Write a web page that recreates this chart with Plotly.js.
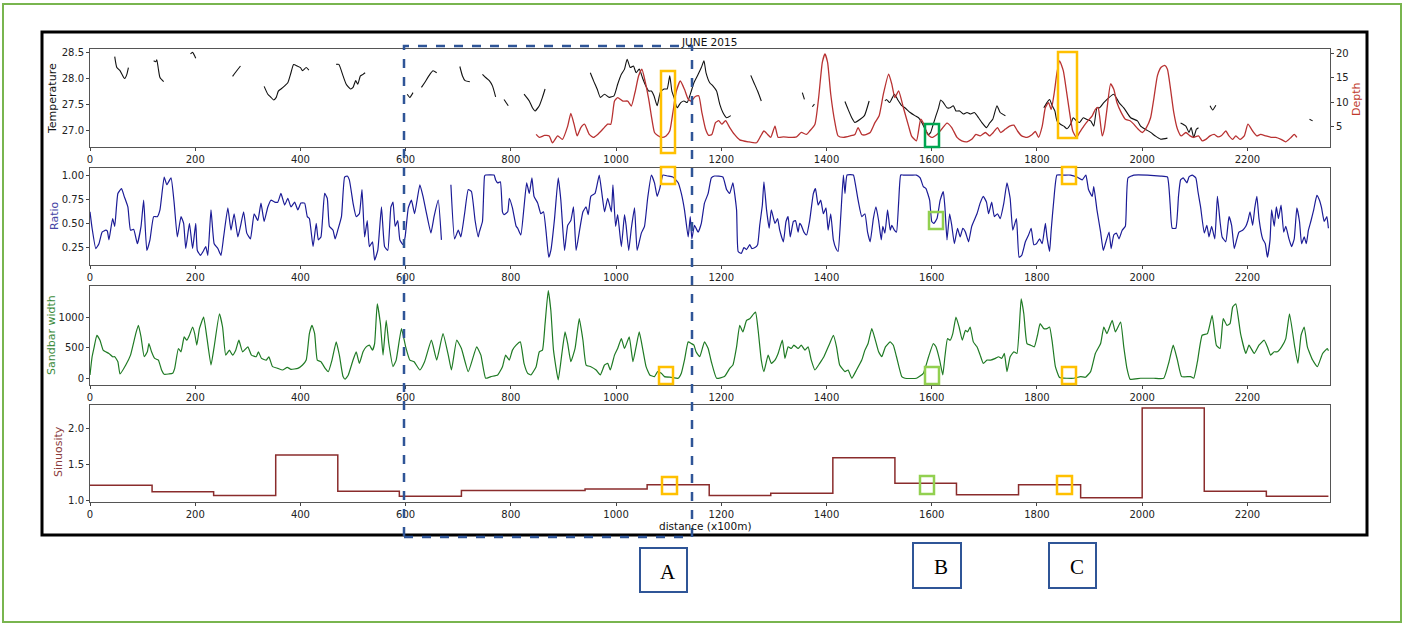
<!DOCTYPE html>
<html><head><meta charset="utf-8">
<script src="https://cdn.plot.ly/plotly-3.0.1.min.js"></script>
<style>html,body{margin:0;padding:0;background:#fff}#chart{width:1405px;height:625px}</style>
</head><body><div id="chart"></div>
<script>
// ---------------- DATA ----------------
const xTicks = [0,200,400,600,800,1000,1200,1400,1600,1800,2000,2200];

const tempX = [47,51,57,64,66,70,73,null,
 121,125,127,130,133,140,null,
 191,195,201,null,
 271,276,286,null,
 331,338,344,349,354,358,363,370,376,382,387,394,400,404,411,416,null,
 468,473,481,487,495,500,505,509,514,519,523,null,
 603,608,614,null,
 630,636,646,652,659,null,
 703,708,713,722,null,
 746,752,759,765,771,null,
 787,795,null,
 825,835,841,846,854,860,865,null,
 951,957,964,970,978,987,996,1003,1010,1016,1021,1027,1033,1038,1044,1051,1055,1062,1067,1072,1078,1084,1091,1097,1102,1106,1110,1116,1123,1129,1135,1142,1148,1156,1162,1167,1171,1178,1184,1191,1197,1203,1210,1218,null,
 1256,1262,1269,1276,null,
 1354,1358,null,
 1373,1377,null,
 1435,1441,1448,1454,1464,1472,1481,null,
 1511,1514,1520,1529,1535,1543,1549,1559,1568,1575,1581,1589,1594,1598,1603,1608,1613,1617,1622,1629,1635,1641,1646,1653,1660,1667,1674,1681,1689,1695,1704,1710,1716,1724,1730,1740,null,
 1813,1819,1824,1829,1834,1838,1844,1851,1857,1864,1869,1875,1881,1888,1894,1902,1908,1914,1919,1927,1946,1956,1965,1978,1991,1997,2006,2016,2025,2035,2048,null,
 2073,2083,2089,2093,2098,2103,2107,null,
 2129,2134,2140,null,
 2318,2324];
const tempY = [28.42,28.21,28.15,28.02,28.00,28.08,28.21,null,
 28.34,28.32,28.36,28.18,28.02,27.94,null,
 28.47,28.50,28.39,null,
 28.04,28.11,28.24,null,
 27.85,27.70,27.64,27.59,27.64,27.76,27.80,27.86,27.92,28.11,28.27,28.24,28.21,28.15,28.21,28.16,null,
 28.27,28.27,28.05,27.89,27.80,27.83,27.96,27.89,28.05,28.08,28.11,null,
 27.70,27.64,27.73,null,
 27.83,27.92,28.08,28.15,28.11,null,
 28.23,28.05,27.96,27.94,null,
 28.08,28.02,27.96,27.86,27.65,null,
 27.60,27.48,null,
 27.70,27.57,27.44,27.38,27.48,27.64,27.80,null,
 28.11,27.96,27.80,27.64,27.70,27.64,27.67,27.89,28.08,28.18,28.37,28.21,28.24,28.11,28.18,27.99,27.89,27.76,27.76,27.67,27.48,27.73,27.80,27.80,28.05,27.76,27.64,27.44,27.54,27.57,27.54,27.73,27.92,28.08,28.21,28.34,28.11,27.92,27.86,27.76,27.51,27.35,27.25,27.29,null,
 28.06,27.92,27.76,27.57,null,
 27.73,27.60,null,
 27.46,27.51,null,
 27.56,27.41,27.25,27.16,27.22,27.29,27.57,null,
 27.57,27.60,27.54,27.70,27.60,27.48,27.44,27.35,27.29,27.25,27.16,27.00,26.93,26.97,27.13,27.29,27.44,27.59,27.54,27.44,27.44,27.48,27.38,27.38,27.32,27.35,27.32,27.35,27.25,27.16,27.06,27.15,27.22,27.48,27.35,27.29,null,
 27.44,27.54,27.60,27.48,27.38,27.19,27.13,27.09,27.04,27.13,27.25,27.19,27.16,27.25,27.22,27.19,27.09,27.44,27.44,27.54,27.70,27.54,27.44,27.25,27.19,27.09,27.03,26.97,26.90,26.84,26.86,null,
 27.15,27.09,26.97,27.06,26.87,27.03,27.06,null,
 27.48,27.40,27.49,null,
 27.22,27.19];

const depthX = [848,854,864,873,879,889,898,908,914,921,926,933,940,949,957,965,975,984,990,997,
 1003,1013,1022,1029,1036,1043,1049,1055,1062,1067,1073,1079,1087,1095,1102,1108,1114,1122,1130,1137,
 1143,1150,1157,1163,1170,1176,1182,1189,1195,1201,1208,1216,1225,1235,1251,1267,1275,1281,1288,1294,
 1302,1308,1318,1330,1343,1352,1362,1368,1378,1385,1392,1397,1402,1408,1416,1422,1432,1445,1454,1460,
 1467,1473,1483,1492,1500,1508,1518,1524,1530,1537,1546,1556,
 1562,1571,1579,1585,1592,1600,1610,1619,1629,1638,1648,1657,1667,1676,1684,1692,1702,1710,1717,1725,
 1731,1740,1748,1756,1763,1771,1781,1791,1797,1803,1810,1816,1822,1827,1833,1838,1843,1850,1856,1862,
 1868,1875,1881,1889,1897,1905,1911,1916,1919,1924,1928,1933,1940,1946,1952,1960,1968,1977,1984,1992,
 2000,2008,2016,2022,2029,2036,2043,2048,2054,2060,2067,2074,2083,2091,2098,2107,2114,2121,2129,2137,
 2144,2151,2159,2165,2172,2178,2186,2194,2201,2210,2218,2225,2235,2245,2254,2264,2273,2283,2289,2294];
const depthY = [3.4,2.8,3.2,3.1,1.7,3.1,2.4,5.1,7.7,5.1,3.1,4.8,5.5,3.4,2.8,3.4,4.5,5.5,5.5,10.2,
 10.9,10.2,10.2,9.2,12.0,15.4,16.7,14.3,10.6,7.2,3.8,3.2,2.8,3.1,4.1,7.9,12.0,14.3,12.6,10.6,
 10.2,11.1,11.3,7.9,4.5,3.2,3.4,5.8,6.2,5.5,6.2,4.8,3.4,2.3,1.9,1.7,3.1,4.1,3.4,2.8,
 5.1,2.8,2.9,2.8,2.9,3.8,3.4,4.1,5.5,10.9,18.1,19.8,18.1,11.6,5.8,3.1,2.8,3.1,3.4,4.8,
 3.4,3.3,3.8,5.8,7.2,11.6,15.7,13.7,10.9,12.3,8.9,5.1,
 3.0,2.1,6.5,5.5,3.4,2.8,3.4,4.5,5.7,4.8,2.8,2.1,1.9,2.4,3.4,3.1,3.8,3.1,3.8,4.8,
 3.8,4.5,5.1,5.3,4.1,3.1,2.8,3.4,4.0,2.8,5.1,8.9,9.9,8.5,12.0,16.0,18.4,16.4,12.3,7.9,
 4.1,2.8,3.8,5.1,6.2,7.2,8.5,8.9,7.2,3.1,4.5,8.5,13.7,12.6,9.9,7.9,6.5,6.2,5.5,4.5,
 3.8,4.8,6.8,10.6,15.4,17.1,17.5,16.7,12.6,7.9,4.5,3.1,3.8,3.1,2.8,3.1,2.1,2.4,3.1,3.4,
 2.9,3.2,4.1,3.1,2.4,3.1,2.4,3.1,5.5,4.1,3.1,3.4,3.1,2.8,2.8,2.4,1.9,2.8,3.4,2.8];

const ratioX = [0,4,11,17,23,30,33,36,43,47,53,60,65,72,77,83,90,97,102,108,114,121,128,133,141,146,154,160,166,173,178,182,189,195,201,204,210,216,220,224,230,236,243,249,254,262,268,274,281,286,292,298,305,312,319,325,331,338,344,351,357,363,370,376,382,389,395,401,408,413,417,424,430,434,439,446,451,455,462,466,471,478,484,489,493,500,506,512,517,522,527,531,537,541,547,554,560,566,572,576,580,585,589,595,599,605,611,617,627,633,639,648,654,662,668,null,686,693,700,705,712,719,725,732,738,
 740,746,750,752,768,771,775,780,784,787,794,797,803,810,813,819,825,830,835,840,844,851,857,862,867,872,876,883,890,895,902,908,914,919,924,930,937,943,947,952,960,968,973,978,984,991,994,999,1003,1010,1016,1019,1024,1029,1035,1040,1048,1054,1060,1067,1073,1078,1083,1089,1098,1108,1118,1124,1130,1137,1141,1144,1149,1156,1162,1168,1175,1181,1187,1203,1210,1216,1222,1229,1232,1238,1243,1248,1254,1258,1264,1269,1273,1278,1281,1286,1291,1295,1302,1307,1311,1318,1323,1327,1331,1337,1341,1346,1349,1352,1357,1362,1368,1375,1379,1384,1389,1394,1399,1403,1408,1413,1418,1422,1427,1432,1435,1439,1451,1455,1460,1467,1473,1478,1483,1489,1494,1499,1504,1507,1511,1516,1521,1524,1529,1533,1537,1541,1546,1562,
 1571,1578,1584,1589,1596,1600,1604,1610,1616,1622,1625,1629,1634,1638,1643,1649,1654,1659,1664,1670,1676,1686,1692,1698,1704,1708,1714,1719,1725,1730,1737,1743,1749,1754,1761,1766,1771,1778,1784,1789,1794,1799,1805,1810,1816,1819,1824,1827,1832,1838,1851,1864,1876,1886,1893,1898,1905,1908,1914,1921,1926,1930,1937,1941,1946,1951,1956,1962,1968,1973,1984,2010,2035,2048,2053,2057,2064,2069,2073,2078,2085,2089,2095,2102,2106,2111,2118,2123,2127,2132,2138,2143,2148,2152,2159,2165,2170,2175,2180,2184,2191,2197,2201,2205,2210,2214,2218,2222,2229,2234,2238,2243,2246,2251,2255,2259,2264,2269,2273,2279,2284,2289,2294,2299,2303,2308,2312,2316,2321,2326,2332,2337,2341,2346,2351,2354];
const ratioY = [0.62,0.45,0.24,0.29,0.41,0.43,0.42,0.33,0.55,0.47,0.81,0.86,0.78,0.67,0.43,0.44,0.29,0.47,0.74,0.22,0.33,0.57,0.57,0.64,0.98,0.90,0.97,0.71,0.36,0.57,0.50,0.24,0.50,0.24,0.50,0.22,0.17,0.22,0.26,0.17,0.64,0.29,0.24,0.17,0.36,0.66,0.43,0.60,0.36,0.47,0.62,0.40,0.34,0.60,0.53,0.71,0.52,0.67,0.74,0.72,0.72,0.81,0.69,0.76,0.67,0.72,0.64,0.71,0.71,0.57,0.55,0.26,0.50,0.33,0.36,0.81,0.76,0.47,0.43,0.34,0.43,0.57,0.98,0.99,0.95,0.71,0.57,0.60,0.85,0.36,0.53,0.26,0.31,0.12,0.22,0.67,0.26,0.22,0.67,0.72,0.47,0.53,0.33,0.28,0.36,0.66,0.74,0.60,0.90,0.78,0.62,0.40,0.57,0.74,0.33,null,0.90,0.34,0.43,0.36,0.60,0.85,0.83,0.53,0.36,
 0.41,0.52,0.99,1.00,1.00,0.95,0.92,0.93,0.62,0.59,0.62,0.76,0.66,0.47,0.45,0.38,0.67,0.92,0.81,0.97,0.78,0.71,0.60,0.62,0.41,0.15,0.22,0.55,0.97,0.74,0.22,0.48,0.53,0.67,0.22,0.41,0.62,0.67,0.59,0.78,0.81,1.00,0.81,0.62,0.76,0.62,0.90,0.47,0.59,0.26,0.59,0.48,0.22,0.45,0.66,0.22,0.40,0.47,0.76,1.00,0.92,0.78,0.86,1.00,0.99,0.98,0.92,0.81,0.64,0.36,0.57,0.34,0.48,0.41,0.50,0.71,0.81,0.97,0.99,0.98,0.85,0.81,0.92,0.64,0.21,0.19,0.25,0.23,0.28,0.24,0.25,0.28,0.48,0.69,0.93,0.64,0.45,0.64,0.50,0.55,0.43,0.31,0.52,0.57,0.36,0.52,0.53,0.41,0.50,0.48,0.41,0.38,0.53,0.81,0.86,0.69,0.74,0.60,0.66,0.43,0.60,0.33,0.24,0.21,0.57,1.00,0.81,1.00,1.00,0.90,0.74,0.57,0.60,0.41,0.31,0.55,0.67,0.53,0.33,0.47,0.40,0.64,0.43,0.48,0.43,0.41,0.71,1.00,1.00,1.00,
 1.00,0.97,0.88,0.86,0.74,0.52,0.50,0.55,0.74,0.83,0.67,0.33,0.60,0.48,0.29,0.45,0.36,0.45,0.41,0.31,0.47,0.60,0.71,0.78,0.72,0.60,0.72,0.57,0.60,0.55,0.71,0.92,0.76,0.43,0.55,0.15,0.17,0.31,0.38,0.45,0.28,0.29,0.34,0.29,0.50,0.36,0.21,0.43,0.74,1.00,1.00,1.00,0.98,0.95,1.00,0.85,0.78,0.88,0.64,0.41,0.22,0.29,0.41,0.24,0.38,0.40,0.34,0.43,0.47,0.97,1.00,1.00,0.99,0.98,0.71,0.45,0.45,0.78,0.95,0.97,0.92,0.98,1.00,0.97,0.83,0.67,0.40,0.48,0.36,0.47,0.34,0.78,0.52,0.36,0.31,0.57,0.48,0.24,0.34,0.41,0.43,0.47,0.53,0.62,0.48,0.66,0.78,0.55,0.34,0.29,0.15,0.33,0.64,0.47,0.67,0.55,0.69,0.41,0.47,0.34,0.26,0.34,0.66,0.52,0.29,0.36,0.29,0.43,0.53,0.64,0.79,0.74,0.66,0.52,0.57,0.45];

const sandX = [0,4,8,13,19,25,30,36,43,47,53,57,68,77,87,92,97,103,109,112,117,123,130,136,141,150,157,161,168,173,179,184,189,195,199,203,208,216,222,230,236,246,252,258,265,271,277,283,290,300,307,316,320,326,335,340,347,357,366,375,382,395,404,411,417,422,427,432,439,447,453,460,468,474,481,485,491,500,506,512,519,525,531,537,541,546,552,557,563,568,576,582,592,600,608,616,627,636,649,659,671,681,687,697,706,719,735,
 743,752,762,775,784,790,797,803,810,818,825,832,838,848,854,860,865,871,876,881,890,897,903,908,914,922,930,937,943,952,962,970,978,984,989,997,1003,1010,1016,1025,1032,1038,1044,1051,1057,1064,1073,1079,1086,1092,1105,1118,1124,1130,1137,1143,1148,1152,1159,1168,1175,1181,1191,1206,1216,1222,1229,1235,1241,1248,1254,1265,1270,1276,1281,1289,1295,1302,1308,1316,1321,1327,1333,1338,1346,1352,1359,1365,1371,1378,1387,1395,1406,1413,1419,1425,1435,1441,1448,1457,1467,1473,1479,1486,1492,1499,1505,1512,1521,1527,1533,1543,1549,
 1571,1584,1594,1603,1608,1615,1621,1625,1630,1635,1640,1646,1652,1658,1664,1668,1673,1679,1686,1692,1698,1705,1712,1721,1727,1733,1738,1743,1749,1756,1762,1770,1775,1781,1788,1795,1801,1806,1813,1819,1824,1829,1835,1843,1857,1870,1883,1892,1902,1911,1921,1927,1933,1943,1949,1959,1965,1971,1977,1997,2022,2041,2051,2059,2067,2075,2092,2098,2105,2114,2124,2133,2141,2148,2154,2161,2167,2172,2178,2187,2197,2203,2213,2222,2232,2238,2244,2251,2257,2265,2273,2280,2290,2296,2302,2308,2314,2324,2333,2343,2352,2354];
const sandY = [54,351,513,702,621,459,432,405,351,351,270,70,216,378,729,864,675,351,432,567,432,324,297,135,65,70,81,162,486,432,675,621,702,837,729,540,810,999,675,216,513,1053,837,378,459,378,459,621,432,513,378,351,432,324,297,351,189,162,135,178,146,162,216,297,729,864,729,297,270,162,108,297,594,378,27,-16,54,297,432,243,432,513,540,459,567,1215,891,378,945,567,189,297,810,513,297,270,135,270,621,297,729,378,135,621,486,108,513,
 378,0,27,54,189,378,297,459,540,594,243,81,54,189,432,459,891,1431,1107,459,-27,405,756,567,270,486,972,621,216,189,135,54,216,243,135,378,486,648,486,675,270,513,756,459,189,54,27,108,81,27,16,0,81,297,594,567,540,432,351,594,486,270,0,27,162,216,513,864,756,945,972,1080,783,297,108,378,243,297,405,621,324,513,486,540,486,540,459,513,297,135,243,351,567,702,513,216,108,135,0,135,297,459,567,810,648,432,351,513,594,540,351,27,0,
 0,81,351,567,513,297,54,351,648,621,729,999,837,621,783,756,837,594,513,378,243,297,297,324,351,324,405,108,351,432,405,1296,1053,567,540,513,702,891,810,810,837,594,189,11,0,0,27,16,108,405,567,837,729,945,756,918,513,162,-16,0,0,0,270,540,297,27,27,0,270,702,729,1026,540,486,972,864,891,1161,1215,729,405,540,405,540,621,513,378,432,432,513,648,1053,513,243,702,837,513,297,189,405,486,450];

const sinX = [0,118,235,353,471,588,706,824,941,1059,1177,1294,1412,1530,1647,1765,1883,2000,2118,2236,2354];
const sinY = [1.21,1.12,1.07,1.63,1.13,1.06,1.14,1.14,1.16,1.22,1.07,1.10,1.59,1.24,1.08,1.22,1.04,2.28,1.13,1.06,1.06];

// ---------------- LAYOUT HELPERS ----------------
const W = 1405, H = 625;
const px = v => v / W, py = v => 1 - v / H;
const FONT = 'DejaVu Sans, Liberation Sans, sans-serif';
const tickFont = {family: FONT, size: 10, color: '#222'};
const xDom = [px(90), px(1330)];
const xRange = [0, 2357];

function xAx(anchor) {
  return {domain: xDom, anchor: anchor, range: xRange, tickmode: 'array', tickvals: xTicks,
    showline: true, mirror: true, linecolor: '#555', linewidth: 1, ticks: 'outside', ticklen: 3,
    tickcolor: '#444', showgrid: false, zeroline: false, tickfont: tickFont, automargin: false};
}
function yAx(dom, range, vals, fmt) {
  return {domain: [py(dom[1]), py(dom[0])], range: range, tickmode: 'array',
    tickvals: vals, tickformat: fmt, showline: true, mirror: true, linecolor: '#555', linewidth: 1,
    ticks: 'outside', ticklen: 3, tickcolor: '#444', showgrid: false, zeroline: false,
    tickfont: tickFont, automargin: false};
}

const traces = [
  {x: tempX, y: tempY, xaxis: 'x', yaxis: 'y', mode: 'lines', line: {color: '#111', width: 1.1, shape: 'spline', smoothing: 0.5}, connectgaps: false},
  {x: depthX, y: depthY, xaxis: 'x', yaxis: 'y5', mode: 'lines', line: {color: '#b83232', width: 1.3, shape: 'spline', smoothing: 0.5}},
  {x: ratioX, y: ratioY, xaxis: 'x2', yaxis: 'y2', mode: 'lines', line: {color: '#1b1b96', width: 1.2, shape: 'spline', smoothing: 0.4}, connectgaps: false},
  {x: sandX, y: sandY, xaxis: 'x3', yaxis: 'y3', mode: 'lines', line: {color: '#1f7a24', width: 1.2, shape: 'spline', smoothing: 0.4}},
  {x: sinX, y: sinY, xaxis: 'x4', yaxis: 'y4', mode: 'lines', line: {color: '#8a2c2c', width: 1.5, shape: 'hv'}}
];

function rect(x0, y0, x1, y1, color, width, dash) {
  return {type: 'rect', xref: 'paper', yref: 'paper', x0: px(x0), x1: px(x1), y0: py(y1), y1: py(y0),
    line: {color: color, width: width, dash: dash || 'solid'}, fillcolor: 'rgba(0,0,0,0)', layer: 'above'};
}
const ORANGE = '#ffc000', LGREEN = '#92d050', DGREEN = '#00a651', BLUE = '#2f5597';
const shapes = [
  rect(3, 4, 1401, 622, '#79b54f', 2),
  rect(42, 32, 1367, 535, '#000', 3),
  rect(404, 46, 692, 537, BLUE, 2.5, 'dash'),
  rect(661, 71, 675, 153, ORANGE, 2.5),
  rect(1058, 52, 1077, 138, ORANGE, 2.5),
  rect(661, 167, 675, 184, ORANGE, 2.5),
  rect(1062, 167, 1076, 184, ORANGE, 2.5),
  rect(659, 367, 673, 384, ORANGE, 2.5),
  rect(1062, 367, 1076, 384, ORANGE, 2.5),
  rect(662, 477, 677, 494, ORANGE, 2.5),
  rect(1057, 476, 1072, 494, ORANGE, 2.5),
  rect(925, 124, 939, 147, DGREEN, 2.5),
  rect(929, 212, 943, 229, LGREEN, 2.5),
  rect(925, 367, 939, 384, LGREEN, 2.5),
  rect(920, 476, 934, 494, LGREEN, 2.5),
  rect(640, 548, 687, 592, BLUE, 2),
  rect(913, 543, 961, 588, BLUE, 2),
  rect(1049, 543, 1096, 588, BLUE, 2)
];

function lab(text, x, y, color, size, angle, family) {
  return {text: text, xref: 'paper', yref: 'paper', x: px(x), y: py(y), xanchor: 'center', yanchor: 'middle',
    showarrow: false, textangle: angle || 0, font: {family: family || FONT, size: size, color: color}};
}
const annotations = [
  lab('JUNE 2015', 709, 42, '#111', 10.5),
  lab('distance (x100m)', 705, 526, '#111', 10.5),
  lab('Temperature', 52, 98, '#111', 11, -90),
  lab('Depth', 1357, 99, '#c0392b', 11, -90),
  lab('Ratio', 54, 216, '#4545a5', 11, -90),
  lab('Sandbar width', 51, 335, '#3a8a3a', 11, -90),
  lab('Sinuosity', 59, 452, '#8b3a3a', 11, -90),
  lab('A', 668, 572, '#000', 21, 0, 'Liberation Serif, serif'),
  lab('B', 941, 567, '#000', 21, 0, 'Liberation Serif, serif'),
  lab('C', 1077, 567, '#000', 21, 0, 'Liberation Serif, serif')
];

const y1 = yAx([49, 147], [26.69, 28.565], [27.0, 27.5, 28.0, 28.5], '.1f'); y1.anchor = 'x';
const y2 = yAx([168, 265], [0.07, 1.073], [0.25, 0.5, 0.75, 1.0], '.2f'); y2.anchor = 'x2';
const y3 = yAx([286, 385], [-110, 1506], [0, 500, 1000], 'd'); y3.anchor = 'x3';
const y4 = yAx([405, 502], [0.98, 2.32], [1.0, 1.5, 2.0], '.1f'); y4.anchor = 'x4';
const y5 = yAx([49, 147], [0.84, 20.82], [5, 10, 15, 20], 'd');
y5.anchor = 'x'; y5.overlaying = 'y'; y5.side = 'right'; y5.mirror = false; delete y5.domain;

const layout = {
  width: W, height: H, margin: {l: 0, r: 0, t: 0, b: 0}, showlegend: false,
  paper_bgcolor: '#fff', plot_bgcolor: '#fff',
  xaxis: xAx('y'), xaxis2: xAx('y2'), xaxis3: xAx('y3'), xaxis4: xAx('y4'),
  yaxis: y1, yaxis2: y2, yaxis3: y3, yaxis4: y4, yaxis5: y5,
  shapes: shapes, annotations: annotations
};

Plotly.newPlot('chart', traces, layout, {staticPlot: true, displayModeBar: false});
</script></body></html>
